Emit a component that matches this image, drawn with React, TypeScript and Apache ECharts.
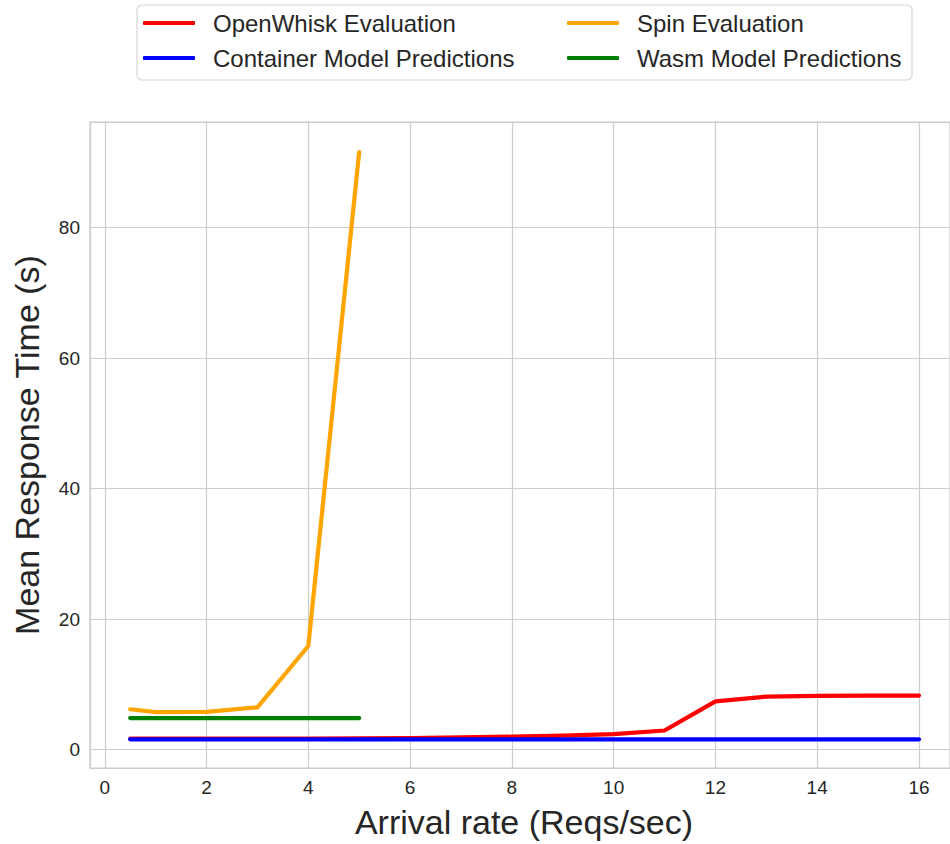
import React, { useEffect, useRef } from 'react';
import * as echarts from 'echarts';

const arrivalRates = [0.5, 1, 2, 3, 4, 5, 6, 7, 8, 9, 10, 11, 12, 13, 14, 15, 16];
const openWhiskEval = [1.7, 1.7, 1.7, 1.7, 1.72, 1.75, 1.8, 1.88, 2.0, 2.15, 2.4, 2.95, 7.4, 8.15, 8.25, 8.3, 8.3];
const containerPred = [1.6, 1.6, 1.6, 1.6, 1.6, 1.6, 1.6, 1.6, 1.6, 1.6, 1.6, 1.6, 1.6, 1.6, 1.6, 1.6, 1.6];
const spinRates = [0.5, 1, 2, 3, 4, 5];
const spinEval = [6.2, 5.77, 5.8, 6.5, 15.9, 91.6];
const wasmPred = [4.85, 4.85, 4.85, 4.85, 4.85, 4.85];

const seriesNames = [
  'OpenWhisk Evaluation',
  'Container Model Predictions',
  'Spin Evaluation',
  'Wasm Model Predictions',
];
const seriesColors = ['#ff0000', '#0000ff', '#ffa500', '#008000'];

const FONT = '"Liberation Sans", Arial, sans-serif';
const TEXT = '#262626';

function pairs(xs: number[], ys: number[]) {
  return xs.map((x, i) => [x, ys[i]]);
}

export default function App() {
  const ref = useRef<HTMLDivElement>(null);
  useEffect(() => {
    if (!ref.current) return;
    const chart = echarts.init(ref.current, null, { renderer: 'svg' });
    const legendPos = [
      { left: 138, top: 4 },
      { left: 138, top: 39 },
      { left: 562, top: 4 },
      { left: 562, top: 39 },
    ];
    const legends = seriesNames.map((name, i) => ({
      data: [name],
      left: legendPos[i].left,
      top: legendPos[i].top,
      icon: 'roundRect',
      itemWidth: 52,
      itemHeight: 4,
      selectedMode: false,
      textStyle: {
        fontFamily: FONT,
        fontSize: 24,
        color: TEXT,
        lineHeight: 28,
        padding: [0, 0, 0, 13],
      },
    }));
    const dataSets = [
      pairs(arrivalRates, openWhiskEval),
      pairs(arrivalRates, containerPred),
      pairs(spinRates, spinEval),
      pairs(spinRates, wasmPred),
    ];
    chart.setOption({
      animation: false,
      backgroundColor: '#ffffff',
      graphic: [
        {
          type: 'rect',
          z: -1,
          shape: { x: 137, y: 5, width: 775, height: 75, r: 5 },
          style: { fill: '#ffffff', stroke: '#d6d6d6', lineWidth: 1.2 },
        },
      ],
      legend: legends,
      grid: {
        left: 90,
        top: 122,
        width: 860,
        height: 646,
        show: true,
        borderColor: '#cccccc',
        borderWidth: 1.25,
        containLabel: false,
      },
      xAxis: {
        type: 'value',
        min: -0.29,
        max: 16.61,
        splitNumber: 8,
        minInterval: 2,
        maxInterval: 2,
        name: 'Arrival rate (Reqs/sec)',
        nameLocation: 'middle',
        nameGap: 37,
        nameTextStyle: { fontFamily: FONT, fontSize: 34, color: TEXT, padding: [0, 0, 0, 8] },
        axisLine: { show: false },
        axisTick: { show: false },
        axisLabel: {
          fontFamily: FONT,
          fontSize: 19,
          color: TEXT,
          margin: 10,
          showMinLabel: false,
          showMaxLabel: false,
        },
        splitLine: { show: true, lineStyle: { color: '#cccccc', width: 1.2 } },
      },
      yAxis: {
        type: 'value',
        min: -2.8,
        max: 96.2,
        splitNumber: 5,
        minInterval: 20,
        maxInterval: 20,
        name: 'Mean Response Time (s)',
        nameLocation: 'middle',
        nameGap: 46,
        nameTextStyle: { fontFamily: FONT, fontSize: 34, color: TEXT },
        axisLine: { show: false },
        axisTick: { show: false },
        axisLabel: {
          fontFamily: FONT,
          fontSize: 19,
          color: TEXT,
          margin: 10,
          showMinLabel: false,
          showMaxLabel: false,
        },
        splitLine: { show: true, lineStyle: { color: '#cccccc', width: 1.2 } },
      },
      series: seriesNames.map((name, i) => ({
        name,
        type: 'line',
        data: dataSets[i],
        showSymbol: false,
        symbol: 'none',
        color: seriesColors[i],
        lineStyle: { color: seriesColors[i], width: 4.2, cap: 'round', join: 'round' },
        z: 2 + i,
      })),
    });
    return () => chart.dispose();
  }, []);
  return (
    <div
      ref={ref}
      style={{ position: 'fixed', left: 0, top: 0, width: 950, height: 844, background: '#fff' }}
    />
  );
}
